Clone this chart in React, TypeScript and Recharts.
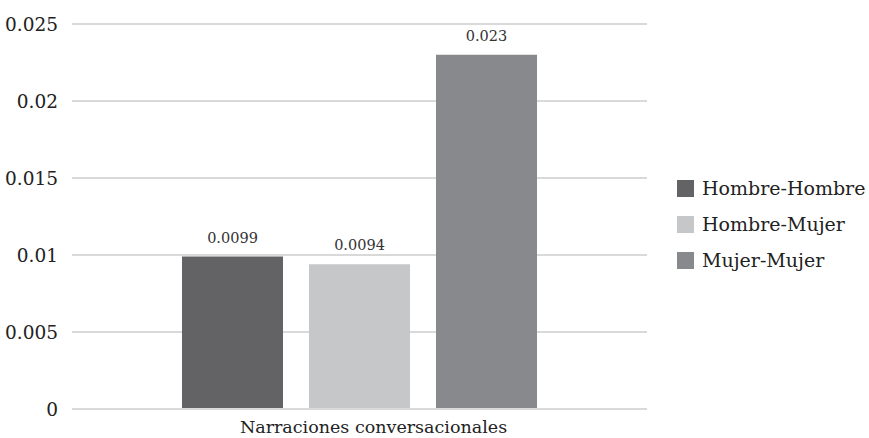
import React from 'react';
import { BarChart, Bar, XAxis, YAxis, CartesianGrid, Legend, LabelList } from 'recharts';

const categories = ['Narraciones conversacionales'];
const hombreHombre = [0.0099];
const hombreMujer = [0.0094];
const mujerMujer = [0.023];
const yTicks = [0, 0.005, 0.01, 0.015, 0.02, 0.025];

const SERIES = [
  { key: 'hh', name: 'Hombre-Hombre', color: '#636365' },
  { key: 'hm', name: 'Hombre-Mujer', color: '#c6c7c9' },
  { key: 'mm', name: 'Mujer-Mujer', color: '#88898c' },
];

const data = categories.map((name, i) => ({
  name,
  hh: hombreHombre[i],
  hm: hombreMujer[i],
  mm: mujerMujer[i],
}));

const FONT = "'DejaVu Serif', serif";

const LegendBox = () => (
  <div style={{ paddingLeft: 30, fontFamily: FONT, fontSize: 19, color: '#222', whiteSpace: 'nowrap' }}>
    {SERIES.map((s) => (
      <div key={s.key} style={{ display: 'flex', alignItems: 'center', height: 36 }}>
        <span style={{ width: 17, height: 17, flexShrink: 0, background: s.color, marginRight: 8, display: 'inline-block' }} />
        <span>{s.name}</span>
      </div>
    ))}
  </div>
);

const App: React.FC = () => {
  return (
    <div style={{ position: 'absolute', left: 0, top: 0, width: 869, height: 438, background: '#fff' }}>
      <BarChart
        width={869}
        height={438}
        data={data}
        margin={{ top: 24, right: 0, bottom: 0, left: 0 }}
        barSize={101}
        barGap={26}
      >
        <CartesianGrid vertical={false} stroke="#d9d9d9" strokeWidth={2} />
        <XAxis
          dataKey="name"
          axisLine={{ stroke: '#d9d9d9', strokeWidth: 2 }}
          tickLine={false}
          height={29}
          tick={{ fontFamily: FONT, fontSize: 17.5, fill: '#222', dy: 6, dx: 14 }}
          tickMargin={0}
        />
        <YAxis
          width={72}
          domain={[0, 0.025]}
          ticks={yTicks}
          axisLine={false}
          tickLine={false}
          tickMargin={8}
          tick={{ fontFamily: FONT, fontSize: 18.5, fill: '#222' }}
        />
        <Legend
          layout="vertical"
          align="right"
          verticalAlign="middle"
          content={<LegendBox />}
          wrapperStyle={{ width: 222, top: 170, right: 0 }}
        />
        {SERIES.map((s) => (
          <Bar key={s.key} dataKey={s.key} name={s.name} fill={s.color} isAnimationActive={false}>
            <LabelList
              dataKey={s.key}
              position="top"
              offset={14}
              style={{ fontFamily: FONT, fontSize: 14.5, fill: '#333' }}
            />
          </Bar>
        ))}
      </BarChart>
    </div>
  );
};

export default App;
